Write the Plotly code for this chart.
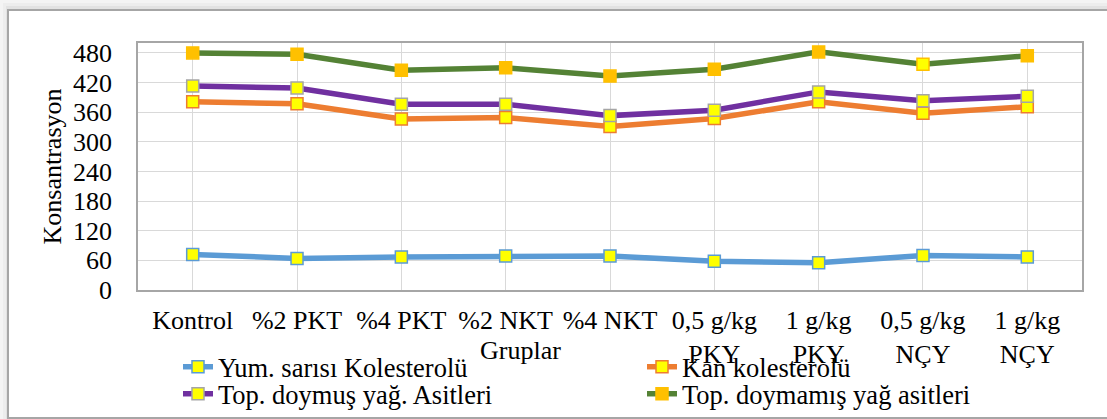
import plotly.graph_objects as go

# Groups on the x axis
groups = ["Kontrol", "%2 PKT", "%4 PKT", "%2 NKT", "%4 NKT",
          "0,5 g/kg<br>PKY", "1 g/kg<br>PKY", "0,5 g/kg<br>NÇY", "1 g/kg<br>NÇY"]

# Series values
yumurta_sarisi_kolesterol = [72, 64, 67, 69, 69, 58, 55, 70, 67]
kan_kolesterol = [381, 377, 346, 349, 331, 347, 381, 358, 371]
doymus_yag = [413, 409, 376, 376, 353, 364, 401, 383, 392]
doymamis_yag = [480, 477, 445, 450, 433, 447, 482, 457, 474]

y_ticks = [0, 60, 120, 180, 240, 300, 360, 420, 480]

FONT = "Liberation Serif"
YELLOW = "#FFFF00"
GOLD = "#FFC000"

fig = go.Figure()

# Plot area geometry in pixels (used to place the outer frame and texts)
W, H = 1107, 419
L, R, T, B = 138, 25, 43, 129
pw, ph = W - L - R, H - T - B


def px_x(x):
    return (x - L) / pw


def px_y(y):
    return (H - B - y) / ph


series = [
    ("Yum. sarısı Kolesterolü", yumurta_sarisi_kolesterol, "#5B9BD5",
     [YELLOW] * 9, ["#5B9BD5"] * 9, "legend"),
    ("Kan kolesterolü", kan_kolesterol, "#ED7D31",
     [YELLOW] * 9, ["#ED7D31"] * 9, "legend2"),
    ("Top. doymuş yağ. Asitleri", doymus_yag, "#7030A0",
     [YELLOW] * 9, ["#A5A5A5"] * 9, "legend3"),
    ("Top. doymamış yağ asitleri", doymamis_yag, "#548235",
     [GOLD] * 7 + [YELLOW] + [GOLD], [GOLD] * 9, "legend4"),
]

for name, vals, color, fills, edges, leg in series:
    fig.add_trace(go.Scatter(
        x=groups, y=vals, name=name, mode="lines+markers",
        line=dict(color=color, width=5.5),
        marker=dict(symbol="square", size=12, color=fills,
                    line=dict(color=edges, width=1.5)),
        legend=leg, showlegend=True,
    ))

leg_common = dict(font=dict(family=FONT, size=26.5, color="#000000"),
                  bgcolor="rgba(0,0,0,0)", yanchor="middle", xanchor="left",
                  orientation="v", visible=True)
col1, col2 = px_x(178), px_x(642)
row1, row2 = px_y(367), px_y(394)

fig.update_layout(
    width=W, height=H,
    margin=dict(l=L, r=R, t=T, b=B, autoexpand=False),
    paper_bgcolor="white", plot_bgcolor="white",
    showlegend=True,
    font=dict(family=FONT, color="#000000"),
    legend=dict(x=col1, y=row1, **leg_common),
    legend2=dict(x=col2, y=row1, **leg_common),
    legend3=dict(x=col1, y=row2, **leg_common),
    legend4=dict(x=col2, y=row2, **leg_common),
    xaxis=dict(
        type="category", automargin=False,
        showgrid=True, gridcolor="#D9D9D9", gridwidth=1,
        showline=True, linecolor="#A6A6A6", linewidth=1.5, mirror=True,
        tickfont=dict(family=FONT, size=26, color="#000000"),
        ticks="", ticklabelstandoff=6,
        zeroline=False,
    ),
    yaxis=dict(
        range=[0, 500], tickvals=y_ticks, automargin=False,
        showgrid=True, gridcolor="#D9D9D9", gridwidth=1,
        showline=True, linecolor="#A6A6A6", linewidth=1.5, mirror=True,
        tickfont=dict(family=FONT, size=26, color="#000000"),
        ticks="", ticklabelstandoff=19,
        zeroline=False,
        title=dict(text="Konsantrasyon", font=dict(family=FONT, size=26),
                   standoff=4),
    ),
    annotations=[
        dict(text="Gruplar", x=px_x(520), y=px_y(350), xref="paper",
             yref="paper", xanchor="center", yanchor="middle",
             showarrow=False,
             font=dict(family=FONT, size=26, color="#000000")),
    ],
)

# Outer chart frame with a soft shadow along the top and left edges
shadow_steps = [(0, "#F4F4F4"), (3, "#EDEDED"), (6, "#E2E2E2")]
for off, col in shadow_steps:
    fig.add_shape(type="rect", xref="paper", yref="paper",
                  x0=px_x(off), x1=px_x(1120), y0=px_y(430), y1=px_y(off),
                  line=dict(width=0), fillcolor=col, layer="below")
fig.add_shape(type="rect", xref="paper", yref="paper",
              x0=px_x(8), x1=px_x(1120), y0=px_y(418), y1=px_y(10),
              line=dict(color="#A6A6A6", width=2), fillcolor="white",
              layer="below")

fig.write_html("out.html")
